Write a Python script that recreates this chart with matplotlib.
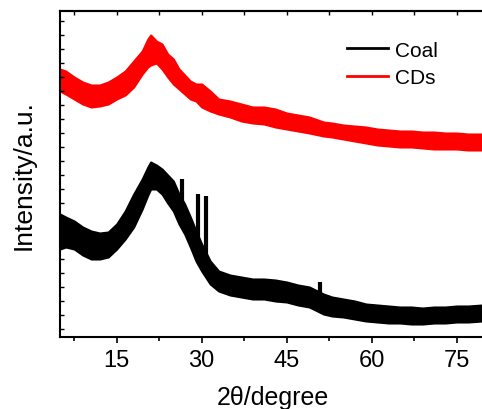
import matplotlib
matplotlib.use("Agg")
import matplotlib.pyplot as plt
import numpy as np

plt.rcParams['font.family'] = ['Liberation Sans', 'DejaVu Sans']

# 2theta sample positions (degrees)
theta = [5.0, 6.0, 7.5, 9.0, 10.5, 12.0, 13.5, 15.0, 16.5, 18.0, 19.5, 20.5, 21.0,
         22.0, 23.0, 24.0, 25.0, 26.0, 27.0, 28.0, 29.0, 30.0, 31.5, 33.0, 35.0,
         37.0, 39.0, 41.0, 43.0, 45.0, 47.0, 49.0, 51.5, 53.0, 55.0, 57.0, 59.0,
         61.0, 63.0, 65.0, 67.0, 69.0, 71.0, 73.0, 75.0, 77.0, 79.5]

# CDs (red) noisy band: upper / lower envelope (a.u.)
cds_upper = [268, 266, 260, 255, 252, 252, 255, 260, 266, 276, 286, 298, 302,
             296, 293, 283, 278, 268, 262, 256, 253, 253, 246, 238, 236,
             233, 230, 230, 228, 224, 222, 220, 215, 214, 212, 211, 210,
             208, 207, 206, 206, 205, 205, 204, 204, 203, 203]
cds_lower = [246, 243, 238, 233, 230, 231, 233, 238, 242, 250, 263, 270, 272,
             274, 268, 260, 253, 248, 243, 238, 236, 230, 226, 223, 220,
             216, 214, 213, 210, 208, 206, 204, 201, 200, 198, 196, 194,
             192, 191, 190, 190, 189, 188, 188, 188, 187, 187]

# Coal (black) noisy band: upper / lower envelope (a.u.)
coal_upper = [123, 120, 116, 110, 106, 104, 105, 113, 126, 143, 158, 170, 175,
              172, 168, 162, 156, 143, 133, 120, 106, 93, 76, 66, 62,
              60, 58, 58, 57, 55, 52, 50, 43, 40, 38, 36, 33,
              32, 31, 30, 30, 29, 30, 30, 31, 31, 32]
coal_lower = [88, 90, 88, 82, 78, 78, 80, 88, 98, 110, 128, 142, 148,
              148, 143, 134, 126, 113, 103, 90, 76, 66, 53, 46, 42,
              40, 38, 38, 36, 35, 32, 30, 23, 21, 20, 18, 16,
              15, 14, 14, 13, 13, 14, 14, 15, 15, 16]

# Sharp crystalline peaks in coal: position, base, top
coal_peak_pos = [26.6, 29.3, 30.8, 50.9]
coal_peak_base = [125, 90, 75, 40]
coal_peak_top = [158, 143, 141, 55]

xticks = [15, 30, 45, 60, 75]

W, H = 482, 410
fig = plt.figure(figsize=(W / 100, H / 100), dpi=100)
ax = fig.add_axes([60 / W, 72 / H, 425 / W, 326 / H])

ax.fill_between(theta, cds_lower, cds_upper, color='#ff0000', lw=1.5, edgecolor='#ff0000')
ax.fill_between(theta, coal_lower, coal_upper, color='black', lw=1.5, edgecolor='black')
ax.vlines(coal_peak_pos, coal_peak_base, coal_peak_top, colors='black', lw=3)

ax.plot([], [], color='black', lw=2, label='Coal')
ax.plot([], [], color='#ff0000', lw=2, label='CDs')
leg = ax.legend(loc='upper left', bbox_to_anchor=(0.655, 0.935), frameon=False,
                fontsize=15, handlelength=2.0, handletextpad=0.3, labelspacing=0.4,
                borderaxespad=0.0)

ax.set_xlim(5, 80)
ax.set_ylim(0, 326)
ax.set_xticks(xticks)
ax.set_xticks([7.5 + 15 * i for i in range(5)], minor=True)
ax.set_yticks(np.arange(8, 326, 14))
ax.set_yticklabels([])
ax.tick_params(axis='x', which='major', direction='out', length=4, width=1.2,
               labelsize=17, pad=5)
ax.tick_params(axis='x', which='minor', direction='out', length=3, width=1.2)
ax.tick_params(axis='y', which='major', direction='in', length=3, width=1.0)

top = ax.secondary_xaxis('top')
top.set_xticks(xticks)
top.set_xticks([7.5 + 15 * i for i in range(5)], minor=True)
top.set_xticklabels([])
top.tick_params(which='both', direction='in', length=3, width=1.0)

for s in ax.spines.values():
    s.set_linewidth(1.5)
top.spines['top'].set_linewidth(1.5)

ax.set_xlabel('2θ/degree', fontsize=18, labelpad=10)
ax.set_ylabel('Intensity/a.u.', fontsize=19, labelpad=14)

fig.savefig('out.png', dpi=100)
